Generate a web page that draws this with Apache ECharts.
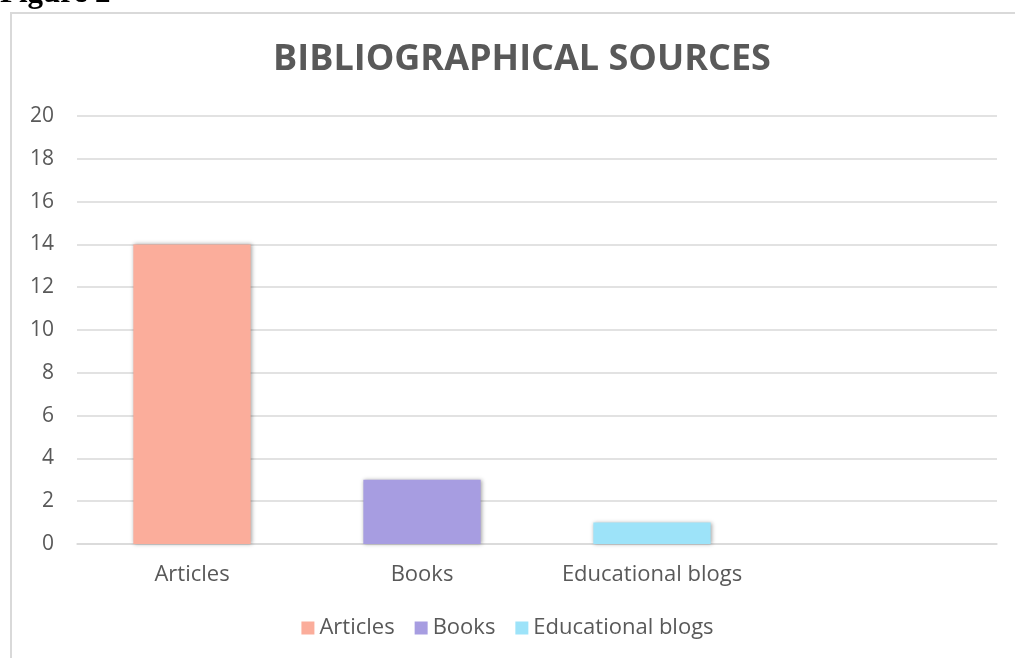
<!DOCTYPE html>
<html>
<head>
<meta charset="utf-8">
<script src="https://cdn.jsdelivr.net/npm/echarts@6/dist/echarts.min.js"></script>
<style>
  html, body { margin: 0; padding: 0; background: #fff; }
  #chart { width: 1015px; height: 658px; }
</style>
</head>
<body>
<div id="chart"></div>
<script>
// data
const categories = ['Articles', 'Books', 'Educational blogs', '']
const seriesNames = ['Articles', 'Books', 'Educational blogs']
const values = [14, 3, 1]
const colors = ['#fbad9b', '#a79de1', '#9de3f9']

const chart = echarts.init(document.getElementById('chart'))

// one series per source, each sitting in its own category slot
const series = seriesNames.map((name, i) => ({
  name: name,
  type: 'bar',
  stack: 'all',
  barWidth: '51%',
  data: categories.map((c, j) => (j === i ? values[i] : '-')),
  itemStyle: {
    color: colors[i],
    shadowColor: 'rgba(0,0,0,0.35)',
    shadowBlur: 4,
    shadowOffsetX: 1,
    shadowOffsetY: 0
  }
}))

const option = {
  animation: false,
  textStyle: { fontFamily: 'Open Sans' },
  graphic: [
    {
      type: 'rect',
      shape: { x: 11, y: 13, width: 1100, height: 700 },
      style: { fill: 'none', stroke: '#d9d9d9', lineWidth: 2 }
    },
    {
      type: 'text',
      left: 0,
      top: -22,
      style: { text: 'Figure 2', font: 'bold 31px "Liberation Serif"', fill: '#000' }
    }
  ],
  title: {
    text: 'BIBLIOGRAPHICAL SOURCES',
    left: 517,
    textAlign: 'center',
    top: 37,
    textStyle: { fontSize: 36, fontWeight: 'bold', color: '#595959', fontFamily: 'Open Sans' }
  },
  legend: {
    data: seriesNames,
    bottom: 14,
    left: 'center',
    itemWidth: 13,
    itemHeight: 13,
    itemGap: 20,
    icon: 'rect',
    textStyle: { fontSize: 22, color: '#595959', padding: [0, 0, 0, 0] }
  },
  grid: { left: 77, right: 18, top: 116, bottom: 114 },
  xAxis: {
    type: 'category',
    data: categories,
    axisLine: { lineStyle: { color: '#d9d9d9', width: 1.5 } },
    axisTick: { show: false },
    axisLabel: { interval: 0, fontSize: 22, color: '#595959', margin: 20 }
  },
  yAxis: {
    type: 'value',
    min: 0,
    max: 20,
    interval: 2,
    axisLine: { show: false },
    axisTick: { show: false },
    axisLabel: { fontSize: 21, color: '#595959', margin: 23 },
    splitLine: { lineStyle: { color: '#d9d9d9', width: 1.5 } }
  },
  series: series
}

chart.setOption(option)
</script>
</body>
</html>
